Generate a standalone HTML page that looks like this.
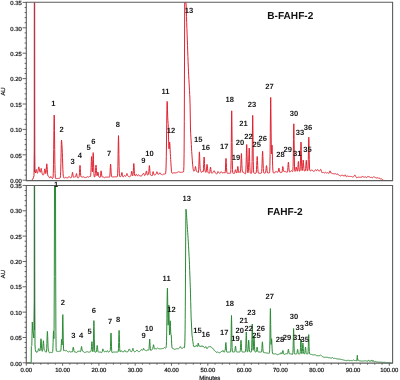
<!DOCTYPE html>
<html><head><meta charset="utf-8"><style>
html,body{margin:0;padding:0;background:#fff;}
body{width:400px;height:380px;overflow:hidden;}
svg{display:block;will-change:transform;filter:blur(0.3px);}
text{font-family:"Liberation Sans",sans-serif;text-rendering:geometricPrecision;}
.ax{stroke:#555;stroke-width:0.9;}
.fr{fill:none;stroke:#5e5e5e;stroke-width:1.1;}
.yl{font-size:5.9px;fill:#1a1a1a;stroke:#1a1a1a;stroke-width:0.22px;text-anchor:end;}
.xl{font-size:5.9px;fill:#1a1a1a;stroke:#1a1a1a;stroke-width:0.22px;text-anchor:middle;}
.pl{font-size:7.6px;fill:#1a1a1a;text-anchor:middle;font-weight:bold;}
.ttl{font-size:10.1px;font-weight:bold;fill:#111;}
.red{fill:none;stroke:#e0222f;stroke-width:1.0;stroke-linejoin:round;}
.grn{fill:none;stroke:#2b8a35;stroke-width:1.0;stroke-linejoin:round;}
</style></head><body>
<svg width="400" height="380" viewBox="0 0 400 380">
<rect width="400" height="380" fill="#fff"/>
<!-- top panel -->
<path class="red" d="M26.50,180.50 L26.70,180.50 L26.90,180.50 L27.10,180.50 L27.30,180.50 L27.50,180.50 L27.70,180.50 L27.90,180.50 L28.10,180.50 L28.30,180.50 L28.50,180.50 L28.70,180.50 L28.90,180.50 L29.10,180.50 L29.30,180.50 L29.50,180.50 L29.70,180.50 L29.90,180.50 L30.10,180.50 L30.30,180.50 L30.50,180.50 L30.70,180.50 L30.90,180.50 L31.10,180.43 L31.30,180.30 L31.50,180.50 L32.50,179.40 L33.40,177.80 L34.00,175.50 L34.30,150.00 L34.35,2.60 L34.65,2.60 L34.75,150.00 L34.95,171.50 L35.50,173.00 L35.70,171.89 L35.90,170.53 L36.10,169.66 L36.20,169.52 L36.30,169.58 L36.50,170.21 L36.70,171.26 L36.90,172.30 L37.10,173.02 L37.30,173.30 L37.50,173.13 L37.70,172.53 L37.90,171.53 L38.10,170.28 L38.30,168.95 L38.50,167.74 L38.70,167.00 L38.80,166.89 L38.90,166.95 L39.10,167.58 L39.30,168.66 L39.50,169.89 L39.70,171.02 L39.90,171.87 L40.10,172.30 L40.30,172.20 L40.50,171.52 L40.70,170.38 L40.90,169.16 L41.10,168.41 L41.20,168.34 L41.30,168.50 L41.50,169.43 L41.70,170.82 L41.90,172.20 L42.10,173.30 L42.30,174.07 L42.50,174.59 L42.70,174.91 L42.90,175.05 L43.10,175.04 L43.30,174.93 L43.50,174.76 L43.70,174.51 L43.90,174.04 L44.10,173.17 L44.30,171.85 L44.50,170.32 L44.70,169.11 L44.90,168.78 L45.10,169.51 L45.30,170.98 L45.50,172.54 L45.70,173.53 L45.90,173.46 L46.10,172.03 L46.30,169.34 L46.50,166.23 L46.70,164.12 L46.80,163.85 L46.90,164.19 L47.10,166.48 L47.30,169.81 L47.50,172.82 L47.70,174.78 L47.90,175.73 L48.10,176.09 L48.30,176.21 L48.50,176.29 L48.70,176.46 L48.90,176.75 L49.10,177.10 L49.30,177.45 L49.50,177.73 L49.70,177.92 L49.90,178.00 L50.10,177.85 L50.30,177.45 L50.50,176.96 L50.70,176.58 L50.90,176.49 L51.10,176.74 L51.30,177.21 L51.50,177.70 L51.70,178.05 L51.90,178.26 L52.10,178.35 L52.30,178.39 L52.50,178.40 L52.70,178.36 L52.90,178.10 L53.10,176.99 L53.30,173.40 L53.50,164.74 L53.70,149.44 L53.90,130.63 L54.10,117.05 L54.20,115.10 L54.30,117.05 L54.50,130.65 L54.70,149.48 L54.90,164.80 L55.10,173.48 L55.30,177.08 L55.50,178.21 L55.70,178.49 L55.90,178.55 L56.10,178.56 L56.30,178.57 L56.50,178.58 L56.70,178.59 L56.90,178.60 L57.10,178.59 L57.30,178.56 L57.50,178.53 L57.70,178.51 L57.90,178.48 L58.10,178.45 L58.30,178.43 L58.50,178.40 L58.70,178.37 L58.90,178.35 L59.10,178.32 L59.30,178.29 L59.50,178.27 L59.70,178.24 L59.90,178.19 L60.10,178.04 L60.30,177.47 L60.50,175.69 L60.70,171.35 L60.90,163.50 L61.10,153.27 L61.30,144.29 L61.40,141.50 L61.50,140.14 L61.70,141.06 L61.90,144.38 L62.10,148.04 L62.20,150.00 L62.30,152.22 L62.50,157.68 L62.70,163.98 L62.90,169.74 L63.10,173.89 L63.30,176.27 L63.50,177.38 L63.70,177.80 L63.90,177.92 L64.10,177.94 L64.30,177.93 L64.50,177.90 L64.70,177.85 L64.90,177.75 L65.10,177.61 L65.30,177.46 L65.50,177.36 L65.70,177.35 L65.90,177.43 L66.10,177.55 L66.30,177.67 L66.50,177.74 L66.70,177.78 L66.90,177.80 L67.10,177.82 L67.30,177.85 L67.50,177.88 L67.70,177.87 L67.90,177.81 L68.10,177.66 L68.30,177.41 L68.50,177.07 L68.70,176.74 L68.90,176.54 L69.10,176.55 L69.30,176.76 L69.50,177.05 L69.70,177.32 L69.90,177.50 L70.10,177.61 L70.30,177.67 L70.50,177.70 L70.70,177.70 L70.90,177.67 L71.10,177.63 L71.30,177.55 L71.50,177.36 L71.70,176.88 L71.90,175.91 L72.10,174.45 L72.30,172.99 L72.50,172.30 L72.70,172.79 L72.90,174.09 L73.10,175.50 L73.30,176.51 L73.50,177.06 L73.70,177.31 L73.90,177.38 L74.10,177.33 L74.30,177.19 L74.50,176.99 L74.70,176.81 L74.90,176.72 L75.10,176.75 L75.30,176.83 L75.50,176.79 L75.70,176.47 L75.90,175.74 L76.10,174.72 L76.30,173.81 L76.50,173.54 L76.70,174.13 L76.90,175.26 L77.10,176.39 L77.30,177.21 L77.50,177.68 L77.70,177.92 L77.90,177.98 L78.10,177.91 L78.30,177.78 L78.50,177.63 L78.70,177.49 L78.90,177.30 L79.10,176.80 L79.30,175.43 L79.50,172.63 L79.70,168.77 L79.90,165.77 L80.00,165.33 L80.10,165.77 L80.30,168.76 L80.50,172.59 L80.70,175.31 L80.90,176.55 L81.10,176.88 L81.30,176.89 L81.50,176.87 L81.70,176.92 L81.90,177.02 L82.10,177.11 L82.30,177.11 L82.50,177.02 L82.70,176.86 L82.90,176.70 L83.10,176.63 L83.30,176.70 L83.50,176.86 L83.70,177.04 L83.90,177.18 L84.10,177.27 L84.30,177.32 L84.50,177.36 L84.70,177.42 L84.90,177.50 L85.10,177.57 L85.30,177.59 L85.50,177.56 L85.70,177.49 L85.90,177.41 L86.10,177.34 L86.30,177.30 L86.50,177.26 L86.70,177.22 L86.90,177.14 L87.10,177.02 L87.30,176.87 L87.50,176.75 L87.70,176.70 L87.90,176.76 L88.10,176.89 L88.30,177.03 L88.50,177.12 L88.70,177.15 L88.90,177.11 L89.10,176.98 L89.30,176.78 L89.50,176.55 L89.70,176.39 L89.90,176.36 L90.10,176.47 L90.30,176.59 L90.50,176.43 L90.70,175.39 L90.90,172.64 L91.10,167.70 L91.30,161.61 L91.50,157.21 L91.60,156.56 L91.70,157.18 L91.90,161.52 L92.10,167.42 L92.30,171.56 L92.50,171.77 L92.70,167.31 L92.90,159.70 L93.10,153.52 L93.20,152.60 L93.30,153.53 L93.50,159.81 L93.70,167.80 L93.90,173.45 L94.10,176.08 L94.30,176.92 L94.50,177.08 L94.70,176.99 L94.90,176.62 L95.10,175.65 L95.30,173.72 L95.50,170.78 L95.70,167.52 L95.90,165.31 L96.00,165.00 L96.10,165.31 L96.30,167.51 L96.50,170.76 L96.70,173.65 L96.90,175.41 L97.10,175.90 L97.30,175.31 L97.50,173.98 L97.70,172.60 L97.90,172.00 L98.10,172.60 L98.30,174.01 L98.50,175.45 L98.70,176.42 L98.90,176.89 L99.10,177.06 L99.30,177.13 L99.50,177.18 L99.70,177.28 L99.90,177.38 L100.10,177.35 L100.30,176.89 L100.50,175.68 L100.70,173.74 L100.90,171.77 L101.10,170.83 L101.30,171.47 L101.50,173.19 L101.70,174.99 L101.90,176.20 L102.10,176.78 L102.30,176.98 L102.50,177.02 L102.70,177.02 L102.90,177.02 L103.10,177.03 L103.30,177.04 L103.50,177.07 L103.70,177.11 L103.90,177.18 L104.10,177.31 L104.30,177.46 L104.50,177.59 L104.70,177.64 L104.90,177.58 L105.10,177.44 L105.30,177.28 L105.50,177.16 L105.70,177.10 L105.90,177.08 L106.10,177.09 L106.30,177.13 L106.50,177.19 L106.70,177.23 L106.90,177.24 L107.10,177.22 L107.30,177.16 L107.50,177.10 L107.70,177.06 L107.90,177.04 L108.10,177.03 L108.30,177.04 L108.50,177.07 L108.70,177.12 L108.90,177.19 L109.10,177.24 L109.30,177.24 L109.50,177.11 L109.70,176.60 L109.90,175.14 L110.10,172.10 L110.30,167.84 L110.50,164.50 L110.60,164.00 L110.70,164.49 L110.90,167.80 L111.10,172.01 L111.30,174.99 L111.50,176.38 L111.70,176.82 L111.90,176.91 L112.10,176.92 L112.30,176.92 L112.50,176.91 L112.70,176.91 L112.90,176.90 L113.10,176.89 L113.30,176.88 L113.50,176.88 L113.70,176.87 L113.90,176.86 L114.10,176.86 L114.30,176.85 L114.50,176.84 L114.70,176.84 L114.90,176.83 L115.10,176.82 L115.30,176.81 L115.50,176.81 L115.70,176.80 L115.90,176.79 L116.10,176.79 L116.30,176.78 L116.50,176.77 L116.70,176.77 L116.90,176.76 L117.10,176.73 L117.30,176.59 L117.50,175.87 L117.70,173.25 L117.90,166.47 L118.10,154.55 L118.30,141.48 L118.50,135.60 L118.70,141.47 L118.90,154.52 L119.10,166.43 L119.30,173.19 L119.50,175.80 L119.70,176.50 L119.90,176.63 L120.10,176.63 L120.30,176.62 L120.50,176.58 L120.70,176.52 L120.90,176.37 L121.10,175.99 L121.30,175.22 L121.50,174.09 L121.70,172.97 L121.90,172.51 L122.10,173.03 L122.30,174.22 L122.50,175.48 L122.70,176.39 L122.90,176.85 L123.10,177.00 L123.30,176.93 L123.50,176.74 L123.70,176.48 L123.90,176.15 L124.10,175.81 L124.30,175.54 L124.50,175.42 L124.70,175.52 L124.90,175.76 L125.10,176.03 L125.30,176.24 L125.50,176.34 L125.70,176.32 L125.90,176.17 L126.10,175.83 L126.30,175.26 L126.50,174.55 L126.70,173.89 L126.90,173.53 L127.00,173.53 L127.10,173.64 L127.30,174.15 L127.50,174.85 L127.70,175.49 L127.90,175.94 L128.10,176.21 L128.30,176.35 L128.50,176.46 L128.70,176.58 L128.90,176.70 L129.10,176.80 L129.30,176.81 L129.50,176.73 L129.70,176.60 L129.90,176.47 L130.10,176.37 L130.30,176.31 L130.50,176.25 L130.70,176.09 L130.90,175.65 L131.10,174.72 L131.30,173.28 L131.50,171.84 L131.70,171.19 L131.90,171.75 L132.10,173.13 L132.30,174.56 L132.50,175.49 L132.70,175.84 L132.90,175.56 L133.10,174.27 L133.30,171.41 L133.50,167.34 L133.70,164.06 L133.80,163.50 L133.90,163.86 L134.10,166.83 L134.30,170.78 L134.50,173.69 L134.70,175.16 L134.90,175.72 L135.10,175.87 L135.30,175.80 L135.50,175.56 L135.70,175.16 L135.90,174.70 L136.10,174.35 L136.30,174.29 L136.50,174.54 L136.70,174.97 L136.90,175.39 L137.10,175.67 L137.30,175.81 L137.50,175.81 L137.70,175.69 L137.90,175.46 L138.10,175.14 L138.30,174.84 L138.50,174.68 L138.70,174.75 L138.90,175.00 L139.10,175.31 L139.30,175.56 L139.50,175.72 L139.70,175.79 L139.90,175.82 L140.10,175.84 L140.30,175.89 L140.50,175.98 L140.70,176.10 L140.90,176.22 L141.10,176.26 L141.30,176.20 L141.50,176.04 L141.70,175.78 L141.90,175.45 L142.10,175.04 L142.30,174.63 L142.50,174.32 L142.70,174.19 L142.90,174.18 L143.10,174.09 L143.30,173.78 L143.50,173.40 L143.70,173.30 L143.90,173.67 L144.10,174.34 L144.30,174.98 L144.50,175.36 L144.70,175.49 L144.90,175.44 L145.10,175.25 L145.30,174.92 L145.50,174.42 L145.70,173.73 L145.90,172.85 L146.10,171.85 L146.30,171.07 L146.50,170.95 L146.70,171.68 L146.90,172.93 L147.10,174.11 L147.30,174.85 L147.50,175.14 L147.70,175.13 L147.90,174.93 L148.10,174.66 L148.30,174.38 L148.50,174.01 L148.70,173.11 L148.90,171.15 L149.10,168.26 L149.30,165.93 L149.40,165.56 L149.50,165.89 L149.70,168.21 L149.90,171.22 L150.10,173.41 L150.30,174.50 L150.50,174.94 L150.70,175.11 L150.90,175.19 L151.10,175.25 L151.30,175.35 L151.50,175.51 L151.70,175.73 L151.90,175.91 L152.10,175.89 L152.30,175.49 L152.50,174.60 L152.70,173.34 L152.90,172.15 L153.10,171.59 L153.30,171.93 L153.50,172.87 L153.70,173.84 L153.90,174.50 L154.10,174.81 L154.30,174.91 L154.50,174.92 L154.70,174.90 L154.90,174.88 L155.10,174.84 L155.30,174.77 L155.50,174.65 L155.70,174.45 L155.90,174.17 L156.10,173.80 L156.30,173.32 L156.50,172.73 L156.70,172.10 L156.90,171.73 L157.00,171.74 L157.10,171.89 L157.30,172.54 L157.50,173.34 L157.70,173.94 L157.90,174.20 L158.10,174.22 L158.30,174.16 L158.50,174.12 L158.70,174.13 L158.90,174.13 L159.10,174.04 L159.30,173.78 L159.50,173.39 L159.70,173.00 L159.90,172.81 L160.00,172.83 L160.10,172.93 L160.30,173.31 L160.50,173.77 L160.70,174.13 L160.90,174.32 L161.10,174.38 L161.30,174.40 L161.50,174.46 L161.70,174.57 L161.90,174.74 L162.10,174.89 L162.30,174.95 L162.50,174.88 L162.70,174.70 L162.90,174.49 L163.10,174.32 L163.30,174.21 L163.50,174.15 L163.70,174.12 L163.90,174.10 L164.10,174.08 L164.30,174.06 L164.50,174.04 L164.70,174.03 L164.90,174.01 L165.10,173.98 L165.30,173.91 L165.50,173.68 L165.70,172.94 L165.90,170.86 L166.10,165.97 L166.30,156.58 L166.50,142.05 L166.70,124.56 L166.90,109.20 L167.10,101.40 L167.30,102.81 L167.50,109.87 L167.70,116.87 L167.90,120.81 L168.10,123.24 L168.20,125.00 L168.30,127.55 L168.50,134.95 L168.70,143.12 L168.90,148.38 L169.10,148.85 L169.30,145.82 L169.50,142.66 L169.60,142.00 L169.70,142.21 L169.90,144.96 L170.10,149.28 L170.30,153.34 L170.50,156.55 L170.60,158.00 L170.70,159.48 L170.90,162.72 L171.10,166.13 L171.30,169.12 L171.50,171.22 L171.70,172.41 L171.90,172.96 L172.10,173.15 L172.30,173.20 L172.50,173.19 L172.70,173.16 L172.90,173.12 L173.10,173.05 L173.30,172.94 L173.50,172.82 L173.70,172.71 L173.90,172.66 L174.10,172.69 L174.30,172.76 L174.50,172.84 L174.70,172.89 L174.90,172.91 L175.10,172.91 L175.30,172.89 L175.50,172.86 L175.70,172.83 L175.90,172.80 L176.10,172.77 L176.30,172.73 L176.50,172.69 L176.70,172.61 L176.90,172.51 L177.10,172.40 L177.30,172.32 L177.50,172.30 L177.70,172.33 L177.90,172.35 L178.10,172.30 L178.30,172.14 L178.50,171.92 L178.70,171.72 L178.90,171.64 L179.10,171.72 L179.30,171.92 L179.50,172.12 L179.70,172.27 L179.90,172.34 L180.10,172.36 L180.30,172.36 L180.50,172.34 L180.70,172.32 L180.90,172.31 L181.10,172.29 L181.30,172.27 L181.50,172.26 L181.70,172.24 L181.90,172.22 L182.10,172.20 L182.30,172.18 L182.50,172.15 L182.70,172.12 L182.90,172.09 L183.10,172.07 L183.30,172.04 L183.50,171.78 L183.70,170.62 L183.90,166.31 L184.10,153.27 L184.30,121.67 L184.50,61.06 L184.70,2.60 L184.90,2.60 L185.10,2.60 L185.20,2.60 L185.30,2.60 L185.50,2.60 L185.70,2.60 L185.90,2.60 L186.00,2.60 L186.10,4.92 L186.30,10.77 L186.50,16.62 L186.70,22.46 L186.90,28.31 L187.10,34.15 L187.30,40.00 L187.50,45.45 L187.70,50.91 L187.90,56.36 L188.10,61.82 L188.30,67.27 L188.50,71.88 L188.70,75.62 L188.90,79.38 L189.10,83.13 L189.30,86.88 L189.50,90.63 L189.70,94.38 L189.90,98.13 L190.10,106.00 L190.30,118.00 L190.50,130.00 L190.70,133.64 L190.90,137.27 L191.10,140.91 L191.30,144.55 L191.50,148.18 L191.70,151.44 L191.90,154.33 L192.10,157.22 L192.30,160.11 L192.50,163.00 L192.70,164.86 L192.90,166.71 L193.10,168.57 L193.30,169.83 L193.50,170.50 L193.70,171.12 L193.90,171.10 L194.10,171.07 L194.30,171.01 L194.50,170.84 L194.70,170.40 L194.90,169.50 L195.10,168.21 L195.30,166.99 L195.50,166.50 L195.70,167.11 L195.90,168.47 L196.10,169.86 L196.30,170.82 L196.50,171.32 L196.70,171.54 L196.90,171.64 L197.10,171.69 L197.30,171.74 L197.50,171.82 L197.70,171.96 L197.90,172.17 L198.10,172.43 L198.30,172.56 L198.50,172.04 L198.70,169.87 L198.90,165.03 L199.10,158.16 L199.30,152.74 L199.40,151.88 L199.50,152.58 L199.70,157.62 L199.90,164.00 L200.10,168.29 L200.30,170.08 L200.50,170.59 L200.70,170.89 L200.90,171.31 L201.10,171.78 L201.30,172.15 L201.50,172.33 L201.70,172.31 L201.90,172.13 L202.10,171.85 L202.30,171.58 L202.50,171.47 L202.70,171.56 L202.90,171.79 L203.10,171.85 L203.30,171.12 L203.50,168.72 L203.70,164.28 L203.90,159.34 L204.10,157.03 L204.30,159.05 L204.50,163.65 L204.70,167.78 L204.90,170.05 L205.10,170.99 L205.30,171.48 L205.50,171.92 L205.70,172.28 L205.90,172.42 L206.10,172.13 L206.30,171.11 L206.50,169.17 L206.70,166.69 L206.90,164.74 L207.00,164.35 L207.10,164.44 L207.30,165.93 L207.50,168.30 L207.70,170.44 L207.90,171.82 L208.10,172.54 L208.30,172.84 L208.50,172.97 L208.70,173.04 L208.90,173.12 L209.10,173.21 L209.30,173.27 L209.50,173.16 L209.70,172.62 L209.90,171.42 L210.10,169.61 L210.30,167.84 L210.50,167.07 L210.70,167.77 L210.90,169.48 L211.10,171.23 L211.30,172.43 L211.50,173.00 L211.70,173.20 L211.90,173.23 L212.10,173.18 L212.30,173.07 L212.50,172.91 L212.70,172.70 L212.90,172.46 L213.10,172.19 L213.30,171.88 L213.50,171.50 L213.70,171.09 L213.90,170.78 L214.00,170.71 L214.10,170.70 L214.30,170.87 L214.50,171.23 L214.70,171.67 L214.90,172.11 L215.10,172.51 L215.30,172.82 L215.50,173.04 L215.70,173.20 L215.90,173.34 L216.10,173.53 L216.30,173.76 L216.50,173.96 L216.70,174.04 L216.90,173.90 L217.10,173.54 L217.30,173.01 L217.50,172.42 L217.70,171.88 L217.90,171.55 L218.00,171.49 L218.10,171.52 L218.30,171.77 L218.50,172.18 L218.70,172.58 L218.90,172.89 L219.10,173.08 L219.30,173.17 L219.50,173.21 L219.70,173.23 L219.90,173.23 L220.10,173.18 L220.30,173.03 L220.50,172.73 L220.70,172.31 L220.90,171.90 L221.00,171.76 L221.10,171.69 L221.30,171.76 L221.50,172.02 L221.70,172.31 L221.90,172.52 L222.10,172.65 L222.30,172.76 L222.50,172.87 L222.70,172.99 L222.90,173.05 L223.10,173.03 L223.30,172.89 L223.50,172.66 L223.70,172.44 L223.90,172.32 L224.10,172.37 L224.30,172.57 L224.50,172.84 L224.70,173.07 L224.90,173.17 L225.10,172.84 L225.30,171.38 L225.50,167.99 L225.70,163.03 L225.90,159.04 L226.00,158.39 L226.10,158.89 L226.30,162.65 L226.50,167.52 L226.70,170.98 L226.90,172.59 L227.10,173.11 L227.30,173.23 L227.50,173.25 L227.70,173.26 L227.90,173.26 L228.10,173.26 L228.30,173.26 L228.50,173.26 L228.70,173.26 L228.90,173.26 L229.10,173.26 L229.30,173.26 L229.50,173.26 L229.70,173.26 L229.90,173.26 L230.10,173.26 L230.30,173.25 L230.50,173.16 L230.70,172.52 L230.90,169.60 L231.10,160.58 L231.30,142.51 L231.50,120.94 L231.70,110.80 L231.90,120.94 L232.10,142.52 L232.30,160.59 L232.50,169.60 L232.70,172.53 L232.90,173.17 L233.10,173.27 L233.30,173.29 L233.50,173.31 L233.70,173.35 L233.90,173.42 L234.10,173.48 L234.30,173.45 L234.50,173.23 L234.70,172.69 L234.90,171.83 L235.10,170.82 L235.30,170.00 L235.50,169.71 L235.70,170.07 L235.90,170.89 L236.10,171.81 L236.30,172.53 L236.50,172.96 L236.70,173.08 L236.90,172.81 L237.10,171.95 L237.30,170.30 L237.50,168.21 L237.70,166.64 L237.80,166.38 L237.90,166.56 L238.10,168.00 L238.30,170.04 L238.50,171.66 L238.70,172.45 L238.90,172.54 L239.10,172.25 L239.30,171.88 L239.50,171.68 L239.70,171.78 L239.90,172.10 L240.10,172.44 L240.30,172.42 L240.50,171.49 L240.70,168.88 L240.90,164.15 L241.10,158.32 L241.30,154.12 L241.40,153.53 L241.50,154.15 L241.70,158.39 L241.90,164.21 L242.10,168.88 L242.30,171.36 L242.50,172.15 L242.70,172.11 L242.90,171.89 L243.10,171.84 L243.30,172.04 L243.50,172.41 L243.70,172.78 L243.90,173.06 L244.10,173.21 L244.30,173.28 L244.50,173.32 L244.70,173.37 L244.90,173.47 L245.10,173.61 L245.30,173.73 L245.50,173.61 L245.70,172.70 L245.90,169.97 L246.10,164.35 L246.30,156.07 L246.50,148.00 L246.70,144.54 L246.90,147.90 L247.10,155.84 L247.30,163.95 L247.50,169.40 L247.70,172.01 L247.90,172.85 L248.10,172.66 L248.30,171.28 L248.50,167.83 L248.70,161.72 L248.90,154.20 L249.10,148.78 L249.20,148.00 L249.30,148.78 L249.50,154.20 L249.70,161.72 L249.90,167.83 L250.10,171.29 L250.30,172.72 L250.50,173.17 L250.70,173.28 L250.90,173.30 L251.10,173.30 L251.30,173.29 L251.50,173.20 L251.70,172.61 L251.90,169.90 L252.10,161.54 L252.30,144.79 L252.50,124.80 L252.70,115.40 L252.90,124.80 L253.10,144.79 L253.30,161.54 L253.50,169.90 L253.70,172.61 L253.90,173.20 L254.10,173.29 L254.30,173.30 L254.50,173.30 L254.70,173.30 L254.90,173.30 L255.10,173.30 L255.30,173.30 L255.50,173.30 L255.70,173.29 L255.90,173.21 L256.10,172.92 L256.30,171.96 L256.50,169.67 L256.70,165.61 L256.90,160.62 L257.10,157.02 L257.20,156.50 L257.30,157.02 L257.50,160.62 L257.70,165.61 L257.90,169.67 L258.10,171.96 L258.30,172.92 L258.50,173.21 L258.70,173.29 L258.90,173.30 L259.10,173.30 L259.30,173.30 L259.50,173.30 L259.70,173.30 L259.90,173.30 L260.10,173.30 L260.30,173.29 L260.50,173.28 L260.70,173.28 L260.90,173.27 L261.10,173.24 L261.30,173.14 L261.50,172.75 L261.70,171.48 L261.90,168.45 L262.10,163.11 L262.30,156.53 L262.50,151.78 L262.60,151.10 L262.70,151.78 L262.90,156.51 L263.10,163.07 L263.30,168.41 L263.50,171.42 L263.70,172.67 L263.90,173.06 L264.10,173.14 L264.30,173.15 L264.50,173.15 L264.70,173.14 L264.90,173.13 L265.10,173.11 L265.30,173.04 L265.50,172.79 L265.70,172.10 L265.90,170.67 L266.10,168.56 L266.30,166.49 L266.50,165.60 L266.70,166.47 L266.90,168.53 L267.10,170.63 L267.30,172.04 L267.50,172.72 L267.70,172.96 L267.90,173.02 L268.10,173.03 L268.30,173.02 L268.50,173.02 L268.70,173.01 L268.90,173.00 L269.10,172.99 L269.30,172.95 L269.50,172.69 L269.70,171.38 L269.90,166.59 L270.10,154.16 L270.30,132.28 L270.50,108.31 L270.70,97.40 L270.90,107.68 L271.10,130.05 L271.30,148.11 L271.50,153.81 L271.70,150.34 L271.90,145.68 L272.00,145.00 L272.10,145.92 L272.30,151.91 L272.50,160.16 L272.70,166.87 L272.90,170.66 L273.10,172.23 L273.30,172.72 L273.50,172.83 L273.70,172.84 L273.90,172.84 L274.10,172.83 L274.30,172.82 L274.50,172.81 L274.70,172.78 L274.90,172.71 L275.10,172.55 L275.30,172.28 L275.50,171.90 L275.70,171.53 L275.90,171.32 L276.10,171.36 L276.30,171.61 L276.50,171.89 L276.70,172.07 L276.90,172.11 L277.10,172.09 L277.30,172.10 L277.50,172.17 L277.70,172.24 L277.90,172.17 L278.10,171.81 L278.30,171.06 L278.50,169.95 L278.70,168.78 L278.90,168.12 L279.00,168.14 L279.10,168.39 L279.30,169.47 L279.50,170.77 L279.70,171.78 L279.90,172.33 L280.10,172.53 L280.30,172.55 L280.50,172.48 L280.70,172.36 L280.90,172.24 L281.10,172.17 L281.30,172.20 L281.50,172.33 L281.70,172.48 L281.90,172.42 L282.10,171.81 L282.30,170.38 L282.50,168.41 L282.70,166.81 L282.80,166.48 L282.90,166.55 L283.10,167.71 L283.30,169.41 L283.50,170.71 L283.70,171.25 L283.90,171.26 L284.10,171.15 L284.30,171.20 L284.50,171.44 L284.70,171.75 L284.90,171.96 L285.10,171.98 L285.30,171.84 L285.50,171.65 L285.70,171.55 L285.90,171.60 L286.10,171.77 L286.30,171.97 L286.50,172.14 L286.70,172.26 L286.90,172.34 L287.10,172.37 L287.30,172.24 L287.50,171.67 L287.70,170.23 L287.90,167.71 L288.10,164.62 L288.30,162.38 L288.40,162.04 L288.50,162.33 L288.70,164.44 L288.90,167.41 L289.10,169.85 L289.30,171.24 L289.50,171.82 L289.70,171.98 L289.90,171.97 L290.10,171.89 L290.30,171.79 L290.50,171.64 L290.70,171.42 L290.90,171.13 L291.10,170.82 L291.30,170.63 L291.50,170.64 L291.70,170.84 L291.90,171.13 L292.10,171.38 L292.30,171.54 L292.50,171.60 L292.70,171.42 L292.90,170.33 L293.10,166.19 L293.30,155.83 L293.50,139.53 L293.70,125.88 L293.80,123.80 L293.90,125.87 L294.10,139.50 L294.30,155.78 L294.50,166.12 L294.70,170.24 L294.90,171.31 L295.10,171.42 L295.30,171.18 L295.50,170.55 L295.70,169.46 L295.90,168.12 L296.10,167.14 L296.20,167.00 L296.30,167.13 L296.50,168.09 L296.70,169.41 L296.90,170.48 L297.10,171.07 L297.30,171.24 L297.50,170.96 L297.70,169.90 L297.90,167.60 L298.10,164.34 L298.30,161.78 L298.40,161.40 L298.50,161.77 L298.70,164.31 L298.90,167.55 L299.10,169.84 L299.30,170.90 L299.50,171.23 L299.70,171.26 L299.90,171.03 L300.10,170.01 L300.30,166.87 L300.50,160.13 L300.70,150.60 L300.90,143.11 L301.00,142.00 L301.10,143.10 L301.30,150.57 L301.50,160.07 L301.70,166.79 L301.90,169.86 L302.10,170.67 L302.30,170.26 L302.50,168.76 L302.70,166.06 L302.90,162.75 L303.10,160.35 L303.20,160.00 L303.30,160.34 L303.50,162.72 L303.70,166.01 L303.90,168.70 L304.10,170.21 L304.30,170.83 L304.50,171.02 L304.70,171.05 L304.90,171.05 L305.10,171.00 L305.30,170.81 L305.50,170.12 L305.70,168.35 L305.90,165.24 L306.10,161.84 L306.30,160.30 L306.50,161.82 L306.70,165.20 L306.90,168.29 L307.10,170.04 L307.30,170.71 L307.50,170.86 L307.70,170.75 L307.90,169.97 L308.10,167.05 L308.30,159.76 L308.50,148.28 L308.70,138.66 L308.80,137.20 L308.90,138.65 L309.10,148.25 L309.30,159.71 L309.50,166.98 L309.70,169.88 L309.90,170.65 L310.10,170.78 L310.30,170.80 L310.50,170.80 L310.70,170.78 L310.90,170.73 L311.10,170.60 L311.30,170.39 L311.50,170.12 L311.70,169.88 L311.90,169.79 L312.10,169.90 L312.30,170.15 L312.50,170.44 L312.70,170.67 L312.90,170.84 L313.10,170.99 L313.30,171.14 L313.50,171.30 L313.70,171.41 L313.90,171.42 L314.10,171.33 L314.30,171.18 L314.50,171.01 L314.70,170.83 L314.90,170.60 L315.10,170.29 L315.30,169.95 L315.50,169.69 L315.70,169.65 L315.90,169.84 L316.10,170.17 L316.30,170.48 L316.50,170.66 L316.70,170.68 L316.90,170.51 L317.10,170.18 L317.30,169.79 L317.50,169.50 L317.70,169.47 L317.90,169.71 L318.10,170.11 L318.30,170.51 L318.50,170.81 L318.70,170.97 L318.90,171.04 L319.10,171.04 L319.30,171.01 L319.50,170.94 L319.70,170.80 L319.90,170.54 L320.10,170.22 L320.30,169.88 L320.50,169.54 L320.70,169.37 L320.90,169.52 L321.10,170.00 L321.30,170.70 L321.50,171.44 L321.70,172.07 L321.90,172.54 L322.10,172.75 L322.30,172.73 L322.50,172.61 L322.70,172.43 L322.90,172.27 L323.10,172.22 L323.30,172.30 L323.50,172.49 L323.70,172.69 L323.90,172.85 L324.10,172.94 L324.30,172.97 L324.50,172.96 L324.70,172.88 L324.90,172.74 L325.10,172.54 L325.30,172.36 L325.50,172.29 L325.70,172.36 L325.90,172.54 L326.10,172.76 L326.30,172.92 L326.50,173.01 L326.70,173.00 L326.90,172.93 L327.10,172.82 L327.30,172.72 L327.50,172.70 L327.70,172.76 L327.90,172.88 L328.10,173.02 L328.30,173.12 L328.50,173.19 L328.70,173.23 L328.90,173.22 L329.10,173.11 L329.30,172.80 L329.50,172.21 L329.70,171.45 L329.90,170.88 L330.00,170.79 L330.10,170.87 L330.30,171.42 L330.50,172.19 L330.70,172.82 L330.90,173.14 L331.10,173.20 L331.30,173.12 L331.50,173.01 L331.70,172.96 L331.90,173.02 L332.10,173.17 L332.30,173.37 L332.50,173.54 L332.70,173.65 L332.90,173.72 L333.10,173.75 L333.30,173.75 L333.50,173.72 L333.70,173.68 L333.90,173.66 L334.10,173.66 L334.30,173.71 L334.50,173.75 L334.70,173.77 L334.90,173.74 L335.10,173.71 L335.30,173.71 L335.50,173.79 L335.70,173.92 L335.90,174.06 L336.10,174.17 L336.30,174.25 L336.50,174.29 L336.70,174.29 L336.90,174.24 L337.10,174.16 L337.30,174.07 L337.50,174.01 L337.70,174.04 L337.90,174.19 L338.10,174.44 L338.30,174.71 L338.50,174.94 L338.70,175.11 L338.90,175.23 L339.10,175.33 L339.30,175.41 L339.50,175.49 L339.70,175.57 L339.90,175.66 L340.10,175.76 L340.30,175.84 L340.50,175.89 L340.70,175.87 L340.90,175.78 L341.10,175.60 L341.30,175.40 L341.50,175.31 L341.70,175.36 L341.90,175.47 L342.10,175.50 L342.30,175.39 L342.50,175.17 L342.70,175.00 L342.90,175.02 L343.10,175.25 L343.30,175.58 L343.50,175.89 L343.70,176.10 L343.90,176.20 L344.10,176.20 L344.30,176.11 L344.50,175.90 L344.70,175.55 L344.90,175.16 L345.10,174.88 L345.30,174.85 L345.50,175.10 L345.70,175.54 L345.90,176.00 L346.10,176.38 L346.30,176.61 L346.50,176.66 L346.70,176.53 L346.90,176.30 L347.10,176.08 L347.30,175.97 L347.50,176.01 L347.70,176.12 L347.90,176.24 L348.10,176.32 L348.30,176.36 L348.50,176.37 L348.70,176.37 L348.90,176.36 L349.10,176.36 L349.30,176.38 L349.50,176.40 L349.70,176.42 L349.90,176.44 L350.10,176.45 L350.30,176.45 L350.50,176.45 L350.70,176.46 L350.90,176.47 L351.10,176.48 L351.30,176.49 L351.50,176.51 L351.70,176.54 L351.90,176.59 L352.10,176.70 L352.30,176.84 L352.50,176.98 L352.70,177.07 L352.90,177.06 L353.10,176.96 L353.30,176.82 L353.50,176.67 L353.70,176.53 L353.90,176.34 L354.10,176.07 L354.30,175.70 L354.50,175.32 L354.70,175.04 L354.90,174.99 L355.00,175.06 L355.10,175.19 L355.30,175.57 L355.50,175.99 L355.70,176.36 L355.90,176.67 L356.10,176.94 L356.30,177.23 L356.50,177.53 L356.70,177.77 L356.90,177.87 L357.10,177.79 L357.30,177.59 L357.50,177.39 L357.70,177.25 L357.90,177.19 L358.10,177.17 L358.30,177.18 L358.50,177.19 L358.70,177.18 L358.90,177.18 L359.10,177.19 L359.30,177.23 L359.50,177.29 L359.70,177.36 L359.90,177.41 L360.10,177.42 L360.30,177.36 L360.50,177.25 L360.70,177.13 L360.90,177.04 L361.10,177.03 L361.30,177.10 L361.50,177.18 L361.70,177.19 L361.90,177.06 L362.10,176.78 L362.30,176.46 L362.50,176.24 L362.70,176.24 L362.90,176.46 L363.10,176.77 L363.30,177.04 L363.50,177.17 L363.70,177.17 L363.90,177.12 L364.10,177.09 L364.30,177.12 L364.50,177.20 L364.70,177.24 L364.90,177.22 L365.10,177.11 L365.30,176.98 L365.50,176.92 L365.70,176.96 L365.90,177.10 L366.10,177.26 L366.30,177.40 L366.50,177.48 L366.70,177.50 L366.90,177.47 L367.10,177.37 L367.30,177.16 L367.50,176.84 L367.70,176.51 L367.90,176.28 L368.10,176.28 L368.30,176.48 L368.50,176.77 L368.70,176.97 L368.90,177.03 L369.10,176.97 L369.30,176.91 L369.50,176.94 L369.70,177.06 L369.90,177.23 L370.10,177.38 L370.30,177.46 L370.50,177.45 L370.70,177.36 L370.90,177.21 L371.10,177.10 L371.30,177.12 L371.50,177.32 L371.70,177.60 L371.90,177.80 L372.10,177.86 L372.30,177.80 L372.50,177.69 L372.70,177.54 L372.90,177.37 L373.10,177.15 L373.30,176.91 L373.50,176.73 L373.70,176.68 L373.90,176.75 L374.10,176.89 L374.30,177.04 L374.40,177.11 L374.50,177.18 L374.70,177.32 L374.90,177.43 L375.10,177.51 L375.30,177.57 L375.50,177.59 L375.70,177.61 L375.90,177.66 L376.10,177.74 L376.30,177.85 L376.50,177.95 L376.70,178.03 L376.90,178.07 L377.10,178.05 L377.30,177.97 L377.50,177.84 L377.70,177.71 L377.90,177.66 L378.10,177.76 L378.30,177.97 L378.50,178.20 L378.70,178.37 L378.90,178.43 L379.10,178.37 L379.30,178.26 L379.50,178.18 L379.70,178.21 L379.90,178.37 L380.10,178.61 L380.30,178.86 L380.50,179.03 L380.70,179.11 L380.90,179.09 L381.10,178.99 L381.30,178.84 L381.50,178.74 L381.70,178.78 L381.90,178.96 L382.10,179.24 L382.30,179.52 L382.50,179.75 L382.70,179.91 L382.90,180.03 L383.10,180.14 L383.30,180.24 L383.50,180.32 L383.70,180.39 L383.90,180.44 L384.10,180.45 L384.30,180.43 L384.50,180.41"/>
<line x1="34.5" y1="2.6" x2="34.5" y2="172" stroke="#a83a4a" stroke-width="1.1"/>
<path class="fr" d="M26.3,2.3 H392.6 V180.6 H26.3 Z"/>
<line x1="22.6" y1="2.40" x2="26.3" y2="2.40" class="ax"/>
<line x1="24.6" y1="7.48" x2="26.3" y2="7.48" class="ax"/>
<line x1="24.6" y1="12.56" x2="26.3" y2="12.56" class="ax"/>
<line x1="24.6" y1="17.64" x2="26.3" y2="17.64" class="ax"/>
<line x1="24.6" y1="22.72" x2="26.3" y2="22.72" class="ax"/>
<line x1="22.6" y1="27.80" x2="26.3" y2="27.80" class="ax"/>
<line x1="24.6" y1="32.88" x2="26.3" y2="32.88" class="ax"/>
<line x1="24.6" y1="37.96" x2="26.3" y2="37.96" class="ax"/>
<line x1="24.6" y1="43.04" x2="26.3" y2="43.04" class="ax"/>
<line x1="24.6" y1="48.12" x2="26.3" y2="48.12" class="ax"/>
<line x1="22.6" y1="53.20" x2="26.3" y2="53.20" class="ax"/>
<line x1="24.6" y1="58.28" x2="26.3" y2="58.28" class="ax"/>
<line x1="24.6" y1="63.36" x2="26.3" y2="63.36" class="ax"/>
<line x1="24.6" y1="68.44" x2="26.3" y2="68.44" class="ax"/>
<line x1="24.6" y1="73.52" x2="26.3" y2="73.52" class="ax"/>
<line x1="22.6" y1="78.60" x2="26.3" y2="78.60" class="ax"/>
<line x1="24.6" y1="83.68" x2="26.3" y2="83.68" class="ax"/>
<line x1="24.6" y1="88.76" x2="26.3" y2="88.76" class="ax"/>
<line x1="24.6" y1="93.84" x2="26.3" y2="93.84" class="ax"/>
<line x1="24.6" y1="98.92" x2="26.3" y2="98.92" class="ax"/>
<line x1="22.6" y1="104.00" x2="26.3" y2="104.00" class="ax"/>
<line x1="24.6" y1="109.08" x2="26.3" y2="109.08" class="ax"/>
<line x1="24.6" y1="114.16" x2="26.3" y2="114.16" class="ax"/>
<line x1="24.6" y1="119.24" x2="26.3" y2="119.24" class="ax"/>
<line x1="24.6" y1="124.32" x2="26.3" y2="124.32" class="ax"/>
<line x1="22.6" y1="129.40" x2="26.3" y2="129.40" class="ax"/>
<line x1="24.6" y1="134.48" x2="26.3" y2="134.48" class="ax"/>
<line x1="24.6" y1="139.56" x2="26.3" y2="139.56" class="ax"/>
<line x1="24.6" y1="144.64" x2="26.3" y2="144.64" class="ax"/>
<line x1="24.6" y1="149.72" x2="26.3" y2="149.72" class="ax"/>
<line x1="22.6" y1="154.80" x2="26.3" y2="154.80" class="ax"/>
<line x1="24.6" y1="159.88" x2="26.3" y2="159.88" class="ax"/>
<line x1="24.6" y1="164.96" x2="26.3" y2="164.96" class="ax"/>
<line x1="24.6" y1="170.04" x2="26.3" y2="170.04" class="ax"/>
<line x1="24.6" y1="175.12" x2="26.3" y2="175.12" class="ax"/>
<line x1="22.6" y1="180.20" x2="26.3" y2="180.20" class="ax"/>
<text x="21.8" y="5.10" class="yl">0.35</text>
<text x="21.8" y="30.50" class="yl">0.30</text>
<text x="21.8" y="55.90" class="yl">0.25</text>
<text x="21.8" y="81.30" class="yl">0.20</text>
<text x="21.8" y="106.70" class="yl">0.15</text>
<text x="21.8" y="132.10" class="yl">0.10</text>
<text x="21.8" y="157.50" class="yl">0.05</text>
<text x="21.8" y="182.90" class="yl">0.00</text>
<text x="0" y="0" transform="translate(5.2,91.5) rotate(-90)" class="yl" style="text-anchor:middle">AU</text>
<text x="267.3" y="19.2" class="ttl">B-FAHF-2</text>
<text x="53.4" y="105.60" class="pl">1</text>
<text x="61.5" y="131.90" class="pl">2</text>
<text x="72.5" y="164.40" class="pl">3</text>
<text x="79.8" y="157.60" class="pl">4</text>
<text x="88.5" y="150.40" class="pl">5</text>
<text x="93.3" y="144.10" class="pl">6</text>
<text x="109.2" y="156.00" class="pl">7</text>
<text x="117.8" y="127.10" class="pl">8</text>
<text x="143.3" y="163.40" class="pl">9</text>
<text x="149.4" y="156.20" class="pl">10</text>
<text x="165.5" y="93.90" class="pl">11</text>
<text x="171.1" y="133.00" class="pl">12</text>
<text x="189.0" y="13.10" class="pl">13</text>
<text x="198.3" y="142.10" class="pl">15</text>
<text x="205.7" y="149.60" class="pl">16</text>
<text x="224.3" y="149.10" class="pl">17</text>
<text x="229.7" y="101.90" class="pl">18</text>
<text x="236" y="159.70" class="pl">19</text>
<text x="240" y="145.00" class="pl">20</text>
<text x="243.4" y="126.30" class="pl">21</text>
<text x="248.4" y="138.80" class="pl">22</text>
<text x="252" y="107.30" class="pl">23</text>
<text x="256.7" y="147.40" class="pl">25</text>
<text x="262.8" y="140.50" class="pl">26</text>
<text x="269.5" y="88.70" class="pl">27</text>
<text x="280.6" y="157.00" class="pl">28</text>
<text x="287.8" y="151.60" class="pl">29</text>
<text x="294" y="115.80" class="pl">30</text>
<text x="297.3" y="156.30" class="pl">31</text>
<text x="299.9" y="134.90" class="pl">33</text>
<text x="307.5" y="152.40" class="pl">35</text>
<text x="308.0" y="129.70" class="pl">36</text>
<!-- bottom panel -->
<path class="grn" d="M26.50,362.60 L26.70,362.60 L26.90,362.60 L27.10,362.60 L27.30,362.60 L27.50,362.60 L27.70,362.60 L27.90,362.60 L28.10,362.60 L28.30,362.60 L28.50,362.60 L28.70,362.60 L28.90,362.60 L29.10,362.60 L29.30,362.60 L29.50,362.60 L29.70,362.60 L29.90,362.60 L30.10,362.60 L30.30,362.60 L30.50,362.60 L30.70,362.60 L30.90,362.60 L31.20,362.60 L31.35,346.50 L31.80,345.50 L32.30,322.00 L32.70,330.00 L33.80,338.00 L34.25,300.00 L34.30,185.60 L34.60,185.60 L34.75,300.00 L35.00,345.00 L35.30,349.50 L35.90,351.50 L35.90,351.15 L36.10,351.54 L36.30,351.92 L36.50,352.31 L36.70,352.45 L36.90,352.36 L37.10,352.25 L37.30,352.11 L37.50,351.89 L37.70,351.55 L37.90,351.03 L38.10,350.34 L38.30,349.57 L38.50,348.89 L38.70,348.57 L38.80,348.60 L38.90,348.76 L39.10,349.36 L39.30,350.08 L39.50,350.65 L39.70,350.95 L39.90,350.91 L40.10,350.39 L40.30,348.87 L40.50,345.90 L40.70,342.04 L40.90,339.16 L41.00,338.74 L41.10,339.16 L41.30,342.03 L41.50,345.91 L41.70,348.93 L41.90,350.55 L42.10,351.18 L42.30,351.28 L42.50,350.90 L42.70,349.63 L42.90,347.09 L43.10,343.71 L43.30,341.13 L43.40,340.72 L43.50,341.03 L43.70,343.41 L43.90,346.57 L44.10,348.86 L44.30,349.90 L44.50,350.24 L44.70,350.48 L44.90,350.84 L45.10,351.28 L45.30,351.67 L45.50,351.94 L45.70,352.11 L45.90,352.23 L46.10,352.29 L46.30,352.14 L46.50,351.24 L46.70,348.64 L46.90,343.61 L47.10,337.06 L47.30,332.16 L47.40,331.41 L47.50,332.05 L47.70,336.69 L47.90,342.90 L48.10,347.59 L48.30,349.97 L48.50,350.91 L48.70,351.38 L48.90,351.83 L49.10,352.25 L49.30,352.58 L49.50,352.78 L49.70,352.88 L49.90,352.89 L50.10,352.82 L50.30,352.65 L50.50,352.41 L50.70,352.17 L50.90,352.06 L51.10,352.10 L51.30,352.27 L51.50,352.49 L51.70,352.66 L51.90,352.71 L52.10,352.65 L52.30,352.52 L52.50,352.28 L52.70,351.48 L52.90,348.81 L53.10,342.78 L53.30,334.89 L53.50,330.94 L53.70,334.29 L53.90,338.73 L54.10,328.42 L54.30,276.52 L54.50,185.60 L54.70,185.60 L54.90,185.60 L55.00,185.60 L55.10,185.60 L55.30,185.60 L55.50,185.60 L55.70,276.88 L55.90,331.26 L56.10,347.46 L56.30,350.79 L56.50,351.22 L56.70,351.20 L56.90,351.15 L57.10,351.14 L57.30,351.21 L57.50,351.32 L57.70,351.48 L57.90,351.63 L58.10,351.71 L58.30,351.68 L58.50,351.56 L58.70,351.40 L58.90,351.27 L59.10,351.20 L59.30,351.19 L59.50,351.21 L59.70,351.26 L59.90,351.31 L60.10,351.33 L60.30,351.32 L60.50,351.25 L60.70,351.03 L60.90,350.19 L61.10,347.81 L61.30,343.65 L61.50,339.94 L61.60,339.36 L61.70,339.92 L61.90,343.22 L62.10,345.02 L62.30,340.15 L62.50,328.01 L62.70,316.47 L62.80,314.62 L62.90,316.37 L63.10,327.91 L63.30,340.80 L63.50,348.08 L63.70,350.50 L63.90,350.91 L64.10,350.79 L64.30,350.55 L64.50,350.34 L64.70,350.26 L64.90,350.36 L65.10,350.58 L65.30,350.78 L65.50,350.84 L65.70,350.72 L65.90,350.48 L66.10,350.30 L66.30,350.29 L66.50,350.46 L66.70,350.75 L66.90,351.04 L67.10,351.27 L67.30,351.44 L67.50,351.57 L67.70,351.69 L67.90,351.82 L68.10,351.96 L68.30,352.07 L68.50,352.10 L68.70,351.95 L68.90,351.67 L69.10,351.38 L69.30,351.23 L69.50,351.26 L69.70,351.44 L69.90,351.66 L70.10,351.85 L70.30,351.97 L70.50,352.00 L70.70,351.91 L70.90,351.76 L71.10,351.64 L71.30,351.64 L71.50,351.75 L71.70,351.91 L71.90,352.06 L72.10,352.10 L72.30,351.92 L72.50,351.41 L72.70,350.41 L72.90,349.01 L73.10,347.72 L73.30,347.18 L73.50,347.72 L73.70,349.01 L73.90,350.37 L74.10,351.32 L74.30,351.78 L74.50,351.90 L74.70,351.89 L74.90,351.88 L75.10,351.91 L75.30,351.99 L75.50,352.07 L75.70,352.15 L75.90,352.22 L76.10,352.29 L76.30,352.37 L76.50,352.46 L76.70,352.51 L76.90,352.47 L77.10,352.31 L77.30,352.02 L77.50,351.63 L77.70,351.22 L77.90,350.93 L78.10,350.86 L78.30,351.01 L78.50,351.24 L78.70,351.36 L78.90,351.31 L79.10,351.15 L79.30,351.05 L79.50,351.12 L79.70,351.35 L79.90,351.62 L80.10,351.78 L80.30,351.75 L80.50,351.49 L80.70,351.01 L80.90,350.23 L81.10,349.02 L81.30,347.53 L81.50,346.52 L81.60,346.49 L81.70,346.83 L81.90,348.33 L82.10,349.93 L82.30,350.81 L82.50,350.97 L82.70,350.86 L82.90,350.87 L83.10,351.08 L83.30,351.43 L83.50,351.77 L83.70,352.01 L83.90,352.17 L84.10,352.27 L84.30,352.37 L84.50,352.46 L84.70,352.52 L84.90,352.52 L85.10,352.46 L85.30,352.37 L85.50,352.30 L85.70,352.24 L85.90,352.19 L86.10,352.12 L86.30,352.02 L86.50,351.85 L86.70,351.66 L86.90,351.52 L87.10,351.49 L87.30,351.59 L87.50,351.77 L87.70,351.95 L87.90,352.08 L88.10,352.14 L88.30,352.16 L88.50,352.13 L88.70,352.08 L88.90,352.03 L89.10,351.99 L89.30,351.99 L89.50,352.01 L89.70,352.03 L89.90,352.01 L90.10,351.91 L90.30,351.76 L90.50,351.62 L90.70,351.53 L90.90,351.43 L91.10,350.99 L91.30,349.51 L91.50,346.60 L91.70,343.22 L91.90,341.68 L92.10,343.27 L92.30,346.73 L92.50,349.77 L92.70,351.39 L92.90,351.80 L93.10,350.90 L93.30,347.03 L93.50,338.08 L93.70,326.37 L93.90,320.60 L94.10,326.36 L94.30,338.08 L94.50,347.03 L94.70,350.92 L94.90,351.97 L95.10,352.15 L95.30,352.17 L95.50,352.17 L95.70,352.17 L95.90,352.16 L96.10,352.11 L96.30,351.89 L96.50,351.22 L96.70,349.73 L96.90,347.54 L97.10,345.74 L97.20,345.43 L97.30,345.63 L97.50,347.26 L97.70,349.41 L97.90,350.96 L98.10,351.73 L98.30,352.02 L98.50,352.11 L98.70,352.14 L98.90,352.15 L99.10,352.14 L99.30,352.14 L99.50,352.14 L99.70,352.14 L99.90,352.14 L100.10,352.14 L100.30,352.14 L100.50,352.15 L100.70,352.17 L100.90,352.21 L101.10,352.30 L101.30,352.41 L101.50,352.52 L101.70,352.57 L101.90,352.46 L102.10,352.07 L102.30,351.27 L102.50,350.13 L102.70,349.15 L102.80,348.91 L102.90,348.90 L103.10,349.38 L103.30,350.09 L103.50,350.64 L103.70,351.03 L103.90,351.35 L104.10,351.63 L104.30,351.79 L104.50,351.80 L104.70,351.66 L104.90,351.45 L105.10,351.28 L105.30,351.25 L105.50,351.38 L105.70,351.60 L105.90,351.80 L106.10,351.93 L106.30,351.93 L106.50,351.78 L106.70,351.49 L106.90,351.12 L107.10,350.78 L107.30,350.65 L107.50,350.79 L107.70,351.13 L107.90,351.51 L108.10,351.80 L108.30,351.97 L108.50,352.05 L108.70,352.05 L108.90,352.01 L109.10,351.89 L109.30,351.70 L109.50,351.47 L109.70,351.26 L109.90,351.15 L110.10,350.97 L110.30,349.89 L110.50,346.32 L110.70,339.79 L110.90,333.88 L111.00,332.97 L111.10,333.94 L111.30,340.02 L111.50,346.82 L111.70,350.76 L111.90,352.20 L112.10,352.58 L112.30,352.63 L112.50,352.54 L112.70,352.39 L112.90,352.25 L113.10,352.15 L113.30,352.10 L113.50,352.08 L113.70,352.07 L113.90,352.06 L114.10,352.06 L114.30,352.06 L114.50,352.06 L114.70,352.06 L114.90,352.06 L115.10,352.06 L115.30,352.06 L115.50,352.05 L115.70,352.05 L115.90,352.05 L116.10,352.05 L116.30,352.05 L116.50,352.05 L116.70,352.05 L116.90,352.05 L117.10,352.05 L117.30,352.04 L117.50,352.04 L117.70,352.04 L117.90,352.03 L118.10,351.90 L118.30,351.18 L118.50,348.51 L118.70,342.38 L118.90,334.35 L119.10,330.40 L119.30,334.35 L119.50,342.37 L119.70,348.50 L119.90,351.15 L120.10,351.82 L120.30,351.83 L120.50,351.62 L120.70,351.29 L120.90,350.93 L121.10,350.69 L121.30,350.69 L121.50,350.93 L121.70,351.28 L121.90,351.58 L122.10,351.75 L122.30,351.77 L122.50,351.69 L122.70,351.57 L122.90,351.50 L123.10,351.52 L123.30,351.62 L123.50,351.74 L123.70,351.80 L123.90,351.75 L124.10,351.54 L124.30,351.16 L124.50,350.72 L124.70,350.39 L124.90,350.34 L125.10,350.59 L125.30,351.00 L125.50,351.40 L125.70,351.68 L125.90,351.81 L126.10,351.84 L126.30,351.83 L126.50,351.82 L126.70,351.81 L126.90,351.79 L127.10,351.77 L127.30,351.74 L127.50,351.70 L127.70,351.67 L127.90,351.62 L128.10,351.48 L128.30,351.16 L128.50,350.61 L128.70,349.91 L128.90,349.31 L129.00,349.11 L129.10,349.01 L129.30,349.03 L129.50,349.24 L129.70,349.53 L129.90,349.91 L130.10,350.37 L130.30,350.84 L130.50,351.21 L130.70,351.44 L130.90,351.54 L131.10,351.58 L131.30,351.59 L131.50,351.59 L131.70,351.56 L131.90,351.45 L132.10,351.12 L132.30,350.47 L132.50,349.54 L132.70,348.65 L132.90,348.25 L133.10,348.56 L133.30,349.38 L133.50,350.26 L133.70,350.91 L133.90,351.28 L134.10,351.48 L134.30,351.63 L134.50,351.77 L134.70,351.87 L134.90,351.87 L135.10,351.78 L135.30,351.63 L135.50,351.48 L135.70,351.36 L135.90,351.26 L136.10,351.13 L136.30,350.91 L136.50,350.59 L136.70,350.25 L136.90,350.06 L137.00,350.07 L137.10,350.16 L137.30,350.47 L137.50,350.83 L137.70,351.08 L137.90,351.20 L138.10,351.29 L138.30,351.43 L138.50,351.62 L138.70,351.83 L138.90,351.94 L139.10,351.89 L139.30,351.70 L139.50,351.45 L139.70,351.24 L139.90,351.10 L140.10,351.00 L140.30,350.89 L140.50,350.72 L140.70,350.46 L140.90,350.10 L141.10,349.75 L141.30,349.53 L141.50,349.55 L141.70,349.76 L141.90,350.04 L142.10,350.23 L142.30,350.28 L142.50,350.23 L142.70,350.12 L142.90,349.92 L143.10,349.52 L143.30,348.92 L143.50,348.42 L143.60,348.33 L143.70,348.39 L143.90,348.84 L144.10,349.42 L144.30,349.82 L144.50,350.02 L144.70,350.13 L144.90,350.21 L145.10,350.27 L145.30,350.33 L145.50,350.42 L145.70,350.56 L145.90,350.74 L146.10,350.89 L146.30,350.93 L146.50,350.83 L146.70,350.62 L146.90,350.39 L147.10,350.21 L147.30,350.09 L147.50,350.03 L147.70,350.00 L147.90,350.00 L148.10,350.03 L148.30,350.08 L148.50,350.11 L148.70,350.05 L148.90,349.64 L149.10,348.22 L149.30,345.07 L149.50,341.02 L149.70,339.09 L149.90,341.20 L150.10,345.41 L150.30,348.68 L150.50,350.10 L150.70,350.39 L150.90,350.28 L151.10,350.12 L151.30,350.03 L151.50,350.01 L151.70,349.99 L151.90,349.90 L152.10,349.73 L152.30,349.51 L152.50,349.22 L152.70,348.79 L152.90,348.05 L153.10,346.92 L153.30,345.61 L153.50,344.77 L153.60,344.74 L153.70,345.01 L153.90,346.20 L154.10,347.55 L154.30,348.46 L154.50,348.87 L154.70,348.98 L154.90,348.97 L155.10,348.92 L155.30,348.84 L155.50,348.75 L155.70,348.68 L155.90,348.65 L156.10,348.68 L156.30,348.74 L156.50,348.79 L156.70,348.79 L156.90,348.71 L157.10,348.53 L157.30,348.31 L157.50,348.11 L157.70,348.02 L157.90,348.10 L158.10,348.29 L158.30,348.50 L158.50,348.66 L158.70,348.75 L158.90,348.79 L159.10,348.80 L159.30,348.81 L159.50,348.82 L159.70,348.84 L159.90,348.85 L160.10,348.85 L160.30,348.83 L160.50,348.80 L160.70,348.76 L160.90,348.73 L161.10,348.70 L161.30,348.68 L161.50,348.67 L161.70,348.64 L161.90,348.62 L162.10,348.59 L162.30,348.57 L162.50,348.56 L162.70,348.56 L162.90,348.56 L163.10,348.56 L163.30,348.53 L163.50,348.45 L163.70,348.29 L163.90,348.04 L164.10,347.76 L164.30,347.54 L164.50,347.49 L164.70,347.63 L164.90,347.89 L165.10,348.13 L165.30,348.27 L165.50,348.27 L165.70,348.12 L165.90,347.81 L166.10,347.19 L166.30,345.62 L166.50,341.56 L166.70,332.80 L166.90,318.41 L167.10,301.60 L167.30,289.83 L167.40,288.14 L167.50,289.76 L167.70,301.07 L167.90,316.00 L168.10,325.17 L168.30,323.81 L168.50,314.63 L168.70,306.19 L168.80,305.00 L168.90,306.51 L169.10,316.09 L169.30,328.07 L169.50,334.92 L169.70,333.85 L169.90,327.49 L170.10,321.74 L170.20,320.80 L170.30,321.50 L170.50,326.54 L170.70,332.15 L170.90,334.54 L171.10,334.66 L171.20,335.00 L171.30,335.97 L171.50,339.67 L171.70,343.89 L171.90,346.70 L172.10,347.93 L172.30,348.30 L172.50,348.37 L172.70,348.38 L172.90,348.40 L173.10,348.44 L173.30,348.55 L173.50,348.75 L173.70,349.04 L173.90,349.34 L174.10,349.53 L174.30,349.52 L174.50,349.35 L174.70,349.14 L174.90,349.03 L175.10,349.04 L175.30,349.08 L175.50,349.07 L175.70,348.95 L175.90,348.79 L176.10,348.66 L176.30,348.64 L176.50,348.71 L176.70,348.81 L176.90,348.87 L177.10,348.85 L177.30,348.77 L177.50,348.70 L177.70,348.70 L177.90,348.76 L178.10,348.80 L178.30,348.79 L178.50,348.69 L178.70,348.55 L178.90,348.41 L179.10,348.28 L179.30,348.11 L179.50,347.86 L179.70,347.47 L179.90,347.04 L180.10,346.70 L180.30,346.64 L180.50,346.87 L180.70,347.28 L180.90,347.69 L181.10,347.99 L181.30,348.15 L181.50,348.22 L181.70,348.25 L181.90,348.26 L182.10,348.25 L182.30,348.23 L182.50,348.21 L182.70,348.15 L182.90,348.03 L183.10,347.83 L183.30,347.57 L183.50,347.33 L183.70,347.23 L183.90,347.31 L184.10,347.51 L184.30,347.75 L184.50,347.61 L184.70,345.99 L184.90,341.11 L185.10,329.30 L185.20,319.49 L185.30,306.67 L185.50,273.18 L185.70,236.89 L185.90,212.60 L186.00,209.20 L186.10,210.15 L186.30,212.05 L186.50,214.50 L186.70,217.50 L186.90,220.50 L187.10,223.50 L187.30,226.50 L187.50,229.50 L187.70,232.50 L187.90,235.50 L188.10,238.50 L188.30,241.83 L188.50,245.50 L188.70,249.17 L188.90,252.83 L189.10,256.50 L189.30,260.17 L189.50,264.80 L189.70,270.40 L189.90,276.00 L190.10,281.60 L190.30,287.20 L190.50,293.86 L190.70,301.57 L190.90,309.29 L191.10,317.00 L191.30,321.00 L191.50,325.00 L191.70,329.00 L191.90,333.00 L192.10,335.73 L192.30,337.20 L192.50,338.67 L192.70,340.13 L192.90,341.60 L193.10,343.07 L193.30,344.53 L193.50,346.00 L193.70,346.30 L193.90,346.60 L194.10,346.90 L194.30,346.94 L194.50,346.69 L194.70,346.34 L194.90,346.04 L195.00,345.97 L195.10,345.99 L195.30,346.17 L195.50,346.30 L195.70,346.16 L195.90,345.79 L196.10,345.42 L196.30,345.26 L196.50,345.44 L196.70,345.87 L196.90,346.32 L197.10,346.61 L197.30,346.64 L197.50,346.32 L197.70,345.57 L197.90,344.43 L198.10,343.33 L198.30,343.01 L198.50,343.76 L198.70,345.04 L198.90,346.02 L199.10,346.35 L199.30,346.22 L199.50,345.95 L199.70,345.83 L199.90,345.96 L200.10,346.26 L200.30,346.52 L200.50,346.59 L200.70,346.41 L200.90,346.09 L201.10,345.82 L201.30,345.80 L201.50,346.05 L201.70,346.44 L201.90,346.73 L202.10,346.75 L202.30,346.48 L202.50,346.09 L202.60,345.93 L202.70,345.83 L202.90,345.83 L203.10,346.02 L203.30,346.31 L203.50,346.66 L203.70,347.00 L203.90,347.27 L204.10,347.44 L204.30,347.55 L204.50,347.63 L204.70,347.69 L204.90,347.71 L205.10,347.63 L205.30,347.37 L205.50,346.96 L205.70,346.63 L205.80,346.59 L205.90,346.65 L206.10,347.04 L206.30,347.60 L206.50,348.12 L206.70,348.51 L206.90,348.71 L207.10,348.69 L207.30,348.47 L207.50,348.13 L207.70,347.78 L207.90,347.49 L208.10,347.27 L208.30,347.07 L208.50,346.85 L208.70,346.64 L208.90,346.59 L209.10,346.76 L209.30,346.98 L209.50,347.01 L209.70,346.80 L209.90,346.53 L210.10,346.41 L210.30,346.53 L210.50,346.81 L210.70,347.10 L210.90,347.26 L211.10,347.31 L211.30,347.34 L211.50,347.42 L211.70,347.56 L211.90,347.72 L212.10,347.94 L212.30,348.18 L212.50,348.33 L212.70,348.40 L212.90,348.43 L213.10,348.52 L213.30,348.73 L213.50,349.06 L213.70,349.47 L213.90,349.86 L214.10,350.20 L214.30,350.47 L214.50,350.68 L214.70,350.84 L214.90,350.96 L215.10,351.05 L215.30,351.17 L215.50,351.38 L215.70,351.66 L215.90,352.01 L216.10,352.23 L216.30,352.31 L216.50,352.33 L216.70,352.29 L216.90,352.21 L217.10,352.11 L217.30,352.04 L217.50,352.03 L217.70,352.09 L217.90,352.19 L218.10,352.28 L218.30,352.36 L218.50,352.41 L218.70,352.48 L218.90,352.57 L219.10,352.68 L219.30,352.77 L219.50,352.81 L219.70,352.76 L219.90,352.67 L220.10,352.55 L220.30,352.45 L220.50,352.34 L220.70,352.18 L220.90,351.97 L221.10,351.71 L221.30,351.51 L221.50,351.44 L221.70,351.53 L221.90,351.66 L222.10,351.69 L222.30,351.49 L222.50,351.09 L222.70,350.65 L222.90,350.43 L223.10,350.56 L223.30,350.99 L223.50,351.51 L223.70,351.94 L223.90,352.17 L224.10,352.22 L224.30,352.08 L224.50,351.76 L224.70,351.28 L224.90,350.74 L225.10,350.13 L225.30,349.01 L225.50,346.73 L225.70,343.77 L225.90,342.49 L226.10,344.45 L226.30,348.02 L226.50,350.70 L226.70,351.85 L226.90,352.15 L227.10,352.19 L227.30,352.18 L227.50,352.17 L227.70,352.15 L227.90,352.14 L228.10,352.13 L228.30,352.11 L228.50,352.10 L228.70,352.09 L228.90,352.07 L229.10,352.06 L229.30,352.05 L229.50,352.03 L229.70,352.02 L229.90,352.01 L230.10,352.00 L230.30,351.99 L230.50,351.89 L230.70,351.10 L230.90,347.45 L231.10,337.53 L231.30,323.04 L231.50,315.50 L231.70,323.04 L231.90,337.53 L232.10,347.45 L232.30,351.10 L232.50,351.89 L232.70,351.99 L232.90,352.00 L233.10,352.00 L233.30,352.00 L233.50,352.00 L233.70,352.00 L233.90,352.00 L234.10,352.00 L234.30,351.98 L234.50,351.90 L234.70,351.56 L234.90,350.62 L235.10,348.88 L235.30,346.90 L235.50,346.00 L235.70,346.90 L235.90,348.88 L236.10,350.62 L236.30,351.56 L236.50,351.90 L236.70,351.98 L236.90,352.00 L237.10,352.00 L237.30,352.00 L237.50,352.00 L237.70,352.00 L237.90,352.00 L238.10,352.00 L238.30,352.00 L238.50,352.00 L238.70,352.00 L238.90,352.00 L239.10,352.00 L239.30,352.00 L239.50,352.00 L239.70,351.99 L239.90,351.92 L240.10,351.57 L240.30,350.40 L240.50,347.75 L240.70,343.83 L240.90,340.67 L241.00,340.20 L241.10,340.67 L241.30,343.83 L241.50,347.75 L241.70,350.40 L241.90,351.57 L242.10,351.92 L242.30,351.99 L242.50,352.00 L242.70,352.00 L242.90,352.00 L243.10,352.00 L243.30,352.00 L243.50,352.00 L243.70,352.00 L243.90,352.00 L244.10,352.00 L244.30,352.00 L244.50,352.00 L244.70,352.00 L244.90,352.00 L245.10,351.99 L245.30,351.87 L245.50,351.20 L245.70,348.74 L245.90,343.07 L246.10,335.65 L246.30,332.00 L246.50,335.65 L246.70,343.07 L246.90,348.74 L247.10,351.20 L247.30,351.87 L247.50,351.95 L247.70,351.80 L247.90,351.13 L248.10,349.29 L248.30,345.86 L248.50,341.98 L248.70,340.20 L248.90,341.98 L249.10,345.86 L249.30,349.29 L249.50,351.13 L249.70,351.80 L249.90,351.97 L250.10,352.00 L250.30,352.00 L250.50,352.00 L250.70,352.00 L250.90,352.00 L251.10,351.98 L251.30,351.82 L251.50,350.89 L251.70,347.44 L251.90,339.50 L252.10,329.11 L252.30,324.00 L252.50,329.11 L252.70,339.48 L252.90,347.32 L253.10,350.30 L253.30,349.65 L253.50,346.21 L253.70,340.92 L253.90,336.64 L254.00,336.00 L254.10,336.64 L254.30,340.92 L254.50,346.23 L254.70,349.83 L254.90,351.41 L255.10,351.89 L255.30,351.98 L255.50,352.00 L255.70,352.00 L255.90,351.99 L256.10,351.92 L256.30,351.64 L256.50,350.87 L256.70,349.45 L256.90,347.84 L257.10,347.10 L257.30,347.84 L257.50,349.45 L257.70,350.87 L257.90,351.64 L258.10,351.92 L258.30,351.99 L258.50,352.00 L258.70,352.00 L258.90,352.00 L259.10,352.00 L259.30,352.00 L259.50,352.00 L259.70,352.00 L259.90,352.00 L260.10,352.01 L260.30,352.04 L260.50,352.07 L260.70,352.10 L260.90,352.13 L261.10,352.15 L261.30,352.11 L261.50,351.83 L261.70,350.82 L261.90,348.47 L262.10,345.00 L262.30,342.21 L262.40,341.80 L262.50,342.24 L262.70,345.09 L262.90,348.62 L263.10,351.03 L263.30,352.10 L263.50,352.44 L263.70,352.53 L263.90,352.57 L264.10,352.60 L264.30,352.63 L264.50,352.66 L264.70,352.69 L264.90,352.72 L265.10,352.75 L265.30,352.77 L265.50,352.80 L265.70,352.83 L265.90,352.86 L266.10,352.89 L266.30,352.92 L266.50,352.95 L266.70,352.98 L266.90,353.01 L267.10,353.04 L267.30,353.07 L267.50,353.10 L267.70,353.13 L267.90,353.15 L268.10,353.18 L268.30,353.21 L268.50,353.24 L268.70,353.27 L268.90,353.30 L269.10,353.32 L269.30,353.26 L269.50,352.63 L269.70,349.62 L269.90,340.71 L270.10,324.96 L270.30,310.82 L270.40,308.60 L270.50,310.75 L270.70,324.50 L270.90,338.84 L271.10,344.43 L271.30,342.53 L271.50,339.21 L271.60,338.70 L271.70,339.34 L271.90,343.38 L272.10,348.37 L272.30,351.77 L272.50,353.28 L272.70,353.75 L272.90,353.87 L273.10,353.90 L273.30,353.90 L273.50,353.90 L273.70,353.90 L273.90,353.90 L274.10,353.91 L274.30,353.90 L274.50,353.90 L274.70,353.89 L274.90,353.86 L275.10,353.82 L275.30,353.77 L275.50,353.74 L275.70,353.75 L275.90,353.79 L276.10,353.87 L276.30,353.99 L276.50,354.16 L276.70,354.39 L276.90,354.61 L277.10,354.75 L277.30,354.75 L277.50,354.62 L277.70,354.45 L277.90,354.33 L278.10,354.29 L278.30,354.29 L278.50,354.26 L278.70,354.20 L278.90,354.11 L279.10,354.03 L279.30,353.98 L279.50,353.96 L279.70,353.97 L279.90,354.00 L280.10,354.03 L280.30,353.98 L280.50,353.71 L280.70,353.19 L280.90,352.70 L281.00,352.59 L281.10,352.61 L281.30,352.97 L281.50,353.45 L281.70,353.77 L281.90,353.86 L282.10,353.72 L282.30,353.19 L282.50,352.18 L282.70,351.03 L282.90,350.52 L283.10,351.09 L283.30,352.30 L283.50,353.37 L283.70,353.98 L283.90,354.27 L284.10,354.40 L284.30,354.43 L284.50,354.37 L284.70,354.26 L284.90,354.14 L285.10,354.04 L285.30,353.98 L285.50,353.94 L285.70,353.88 L285.90,353.80 L286.10,353.72 L286.30,353.66 L286.50,353.65 L286.70,353.71 L286.90,353.79 L287.10,353.87 L287.30,353.89 L287.50,353.76 L287.70,353.28 L287.90,352.18 L288.10,350.57 L288.30,349.29 L288.40,349.10 L288.50,349.29 L288.70,350.58 L288.90,352.18 L289.10,353.25 L289.30,353.69 L289.50,353.78 L289.70,353.74 L289.90,353.70 L290.10,353.71 L290.30,353.77 L290.50,353.85 L290.70,353.92 L290.90,353.96 L291.10,353.99 L291.30,354.01 L291.50,354.05 L291.70,354.11 L291.90,354.21 L292.10,354.33 L292.30,354.42 L292.50,354.42 L292.70,354.16 L292.90,352.78 L293.10,348.16 L293.30,338.93 L293.50,329.96 L293.60,328.52 L293.70,329.94 L293.90,338.86 L294.10,348.01 L294.30,352.52 L294.50,353.78 L294.70,353.99 L294.90,354.02 L295.10,354.02 L295.30,354.02 L295.50,354.02 L295.70,354.02 L295.90,354.02 L296.10,354.02 L296.30,354.02 L296.50,353.99 L296.70,353.85 L296.90,353.39 L297.10,352.32 L297.30,350.75 L297.50,349.49 L297.60,349.30 L297.70,349.49 L297.90,350.76 L298.10,352.33 L298.30,353.40 L298.50,353.86 L298.70,354.01 L298.90,354.04 L299.10,354.04 L299.30,354.04 L299.50,354.04 L299.70,354.03 L299.90,353.95 L300.10,353.46 L300.30,351.63 L300.50,347.42 L300.70,341.91 L300.90,339.20 L301.10,341.91 L301.30,347.42 L301.50,351.63 L301.70,353.43 L301.90,353.77 L302.10,353.24 L302.30,351.51 L302.50,348.30 L302.70,344.67 L302.90,343.00 L303.10,344.67 L303.30,348.31 L303.50,351.52 L303.70,353.25 L303.90,353.88 L304.10,354.03 L304.30,354.05 L304.50,353.95 L304.70,353.55 L304.90,352.44 L305.10,350.39 L305.30,348.06 L305.50,347.00 L305.70,348.07 L305.90,350.40 L306.10,352.45 L306.30,353.56 L306.50,353.96 L306.70,354.06 L306.90,354.08 L307.10,354.08 L307.30,354.09 L307.50,354.08 L307.70,354.03 L307.90,353.61 L308.10,351.66 L308.30,346.37 L308.50,338.63 L308.70,334.60 L308.90,338.63 L309.10,346.37 L309.30,351.67 L309.50,353.62 L309.70,354.04 L309.90,354.09 L310.10,354.12 L310.30,354.17 L310.50,354.21 L310.70,354.25 L310.90,354.30 L311.10,354.35 L311.30,354.40 L311.50,354.46 L311.70,354.53 L311.90,354.61 L312.10,354.68 L312.30,354.72 L312.50,354.75 L312.70,354.77 L312.90,354.79 L313.10,354.82 L313.30,354.87 L313.50,354.92 L313.70,354.96 L313.90,354.98 L314.10,354.97 L314.30,354.92 L314.50,354.83 L314.70,354.72 L314.90,354.66 L315.10,354.68 L315.30,354.79 L315.50,354.96 L315.70,355.12 L315.90,355.26 L316.10,355.37 L316.30,355.47 L316.50,355.55 L316.70,355.60 L316.90,355.63 L317.10,355.64 L317.30,355.67 L317.50,355.73 L317.70,355.81 L317.90,355.86 L318.10,355.86 L318.30,355.81 L318.50,355.75 L318.70,355.71 L318.90,355.68 L319.10,355.67 L319.30,355.66 L319.50,355.64 L319.70,355.57 L319.90,355.41 L320.10,355.20 L320.30,355.01 L320.50,354.94 L320.70,355.04 L320.90,355.24 L321.10,355.42 L321.30,355.55 L321.50,355.67 L321.70,355.85 L321.90,356.07 L322.10,356.29 L322.30,356.47 L322.50,356.61 L322.70,356.71 L322.90,356.79 L323.10,356.88 L323.30,356.97 L323.50,357.07 L323.70,357.17 L323.90,357.25 L324.10,357.31 L324.30,357.35 L324.50,357.38 L324.70,357.42 L324.90,357.45 L325.10,357.44 L325.30,357.37 L325.50,357.26 L325.70,357.15 L325.90,357.08 L326.10,357.11 L326.30,357.20 L326.50,357.31 L326.70,357.37 L326.90,357.36 L327.10,357.31 L327.30,357.29 L327.50,357.35 L327.70,357.48 L327.90,357.61 L328.10,357.71 L328.30,357.74 L328.50,357.71 L328.70,357.64 L328.90,357.58 L329.10,357.57 L329.30,357.64 L329.50,357.75 L329.70,357.86 L329.90,357.94 L330.10,357.96 L330.30,357.94 L330.50,357.91 L330.70,357.91 L330.90,357.94 L331.10,358.02 L331.30,358.09 L331.50,358.12 L331.70,358.08 L331.90,357.93 L332.10,357.70 L332.30,357.49 L332.50,357.45 L332.70,357.60 L332.90,357.88 L333.10,358.16 L333.30,358.34 L333.50,358.43 L333.70,358.47 L333.90,358.47 L334.10,358.45 L334.30,358.38 L334.50,358.29 L334.70,358.21 L334.90,358.19 L335.10,358.25 L335.30,358.37 L335.50,358.51 L335.70,358.62 L335.90,358.70 L336.10,358.74 L336.30,358.77 L336.50,358.79 L336.70,358.81 L336.90,358.84 L337.10,358.86 L337.30,358.89 L337.50,358.91 L337.70,358.94 L337.90,358.96 L338.10,358.98 L338.30,359.01 L338.50,359.03 L338.70,359.05 L338.90,359.08 L339.10,359.10 L339.30,359.12 L339.50,359.14 L339.70,359.17 L339.90,359.19 L340.10,359.22 L340.30,359.27 L340.50,359.31 L340.70,359.35 L340.90,359.39 L341.10,359.43 L341.30,359.46 L341.50,359.49 L341.70,359.53 L341.90,359.58 L342.10,359.63 L342.30,359.69 L342.50,359.74 L342.70,359.79 L342.90,359.84 L343.10,359.89 L343.30,359.94 L343.50,359.98 L343.70,360.03 L343.90,360.08 L344.10,360.14 L344.30,360.21 L344.50,360.27 L344.70,360.33 L344.90,360.37 L345.10,360.38 L345.30,360.38 L345.50,360.41 L345.70,360.47 L345.90,360.55 L346.10,360.61 L346.30,360.64 L346.50,360.61 L346.70,360.54 L346.90,360.47 L347.10,360.41 L347.30,360.38 L347.50,360.36 L347.70,360.35 L347.90,360.34 L348.10,360.33 L348.30,360.34 L348.50,360.37 L348.70,360.42 L348.90,360.49 L349.10,360.57 L349.30,360.62 L349.50,360.64 L349.70,360.62 L349.90,360.58 L350.10,360.53 L350.30,360.50 L350.50,360.48 L350.70,360.48 L350.90,360.49 L351.10,360.52 L351.30,360.57 L351.50,360.64 L351.70,360.70 L351.90,360.74 L352.10,360.73 L352.30,360.68 L352.50,360.62 L352.70,360.53 L352.90,360.43 L353.10,360.30 L353.30,360.16 L353.50,360.04 L353.70,360.01 L353.90,360.08 L354.10,360.22 L354.30,360.36 L354.50,360.47 L354.70,360.53 L354.90,360.55 L355.10,360.57 L355.30,360.59 L355.50,360.61 L355.70,360.62 L355.90,360.64 L356.10,360.66 L356.30,360.69 L356.50,360.73 L356.70,360.71 L356.90,359.97 L357.10,357.37 L357.30,355.33 L357.50,357.40 L357.70,360.00 L357.90,360.68 L358.10,360.58 L358.30,360.40 L358.50,360.28 L358.70,360.26 L358.90,360.34 L359.10,360.49 L359.30,360.63 L359.50,360.74 L359.70,360.81 L359.90,360.85 L360.10,360.88 L360.30,360.92 L360.50,360.96 L360.70,360.99 L360.90,361.00 L361.10,360.99 L361.30,360.98 L361.50,360.96 L361.70,360.96 L361.90,360.98 L362.10,361.01 L362.30,361.05 L362.50,361.09 L362.70,361.11 L362.90,361.10 L363.10,361.08 L363.30,361.06 L363.50,361.05 L363.70,361.04 L363.90,361.03 L364.10,361.01 L364.30,360.96 L364.50,360.86 L364.70,360.73 L364.90,360.61 L365.10,360.55 L365.30,360.60 L365.50,360.73 L365.70,360.87 L365.90,360.97 L366.10,361.02 L366.30,361.04 L366.50,361.07 L366.70,361.11 L366.90,361.16 L367.10,361.20 L367.30,361.24 L367.50,361.25 L367.70,361.22 L367.90,361.10 L368.10,360.81 L368.30,360.38 L368.50,360.04 L368.60,359.99 L368.70,360.05 L368.90,360.43 L369.10,360.89 L369.30,361.17 L369.50,361.26 L369.70,361.23 L369.90,361.18 L370.10,361.16 L370.30,361.19 L370.50,361.23 L370.70,361.18 L370.90,360.91 L371.10,360.46 L371.30,360.08 L371.40,360.03 L371.50,360.11 L371.70,360.55 L371.90,361.07 L372.10,361.39 L372.30,361.41 L372.50,361.15 L372.70,360.70 L372.90,360.34 L373.00,360.29 L373.10,360.35 L373.30,360.74 L373.50,361.22 L373.70,361.55 L373.90,361.71 L374.10,361.77 L374.30,361.79 L374.50,361.78 L374.70,361.76 L374.90,361.70 L375.10,361.61 L375.30,361.53 L375.50,361.49 L375.70,361.53 L375.90,361.63 L376.10,361.75 L376.30,361.85 L376.50,361.90 L376.70,361.93 L376.90,361.94 L377.10,361.94 L377.30,361.96 L377.50,361.99 L377.70,362.02 L377.90,362.05 L378.10,362.08 L378.30,362.10 L378.50,362.12 L378.70,362.13 L378.90,362.15 L379.10,362.16 L379.30,362.17 L379.50,362.19 L379.70,362.20 L379.90,362.21 L380.10,362.22 L380.30,362.21 L380.50,362.20 L380.70,362.18 L380.90,362.18 L381.10,362.19 L381.30,362.22 L381.50,362.27 L381.70,362.31 L381.90,362.34 L382.10,362.35 L382.30,362.33 L382.50,362.29 L382.70,362.25 L382.90,362.23 L383.10,362.24 L383.30,362.29 L383.50,362.36 L383.70,362.43 L383.90,362.47 L384.10,362.46 L384.30,362.42 L384.50,362.34 L384.70,362.25 L384.90,362.19 L385.10,362.21 L385.30,362.30 L385.50,362.42 L385.70,362.54 L385.90,362.64 L386.10,362.70 L386.30,362.74 L386.50,362.77 L386.70,362.79 L386.90,362.79 L387.10,362.80 L387.30,362.80 L387.50,362.81 L387.70,362.82 L387.90,362.83 L388.10,362.83 L388.30,362.83 L388.50,362.82 L388.70,362.80 L388.90,362.80 L389.10,362.81 L389.30,362.85 L389.50,362.89 L389.70,362.94 L389.90,362.98 L390.10,363.00 L390.30,363.03 L390.50,363.05 L390.70,363.09 L390.90,363.15 L391.10,363.23 L391.30,363.30 L391.50,363.35 L391.70,363.35 L391.90,363.32"/>
<line x1="34.5" y1="185.6" x2="34.5" y2="330" stroke="#3e6e48" stroke-width="1.1"/>
<path class="fr" d="M26.3,185.5 H392.6 V363.1 H26.3 Z"/>
<line x1="22.6" y1="185.45" x2="26.3" y2="185.45" class="ax"/>
<line x1="24.6" y1="190.52" x2="26.3" y2="190.52" class="ax"/>
<line x1="24.6" y1="195.58" x2="26.3" y2="195.58" class="ax"/>
<line x1="24.6" y1="200.65" x2="26.3" y2="200.65" class="ax"/>
<line x1="24.6" y1="205.72" x2="26.3" y2="205.72" class="ax"/>
<line x1="22.6" y1="210.79" x2="26.3" y2="210.79" class="ax"/>
<line x1="24.6" y1="215.85" x2="26.3" y2="215.85" class="ax"/>
<line x1="24.6" y1="220.92" x2="26.3" y2="220.92" class="ax"/>
<line x1="24.6" y1="225.99" x2="26.3" y2="225.99" class="ax"/>
<line x1="24.6" y1="231.05" x2="26.3" y2="231.05" class="ax"/>
<line x1="22.6" y1="236.12" x2="26.3" y2="236.12" class="ax"/>
<line x1="24.6" y1="241.19" x2="26.3" y2="241.19" class="ax"/>
<line x1="24.6" y1="246.26" x2="26.3" y2="246.26" class="ax"/>
<line x1="24.6" y1="251.32" x2="26.3" y2="251.32" class="ax"/>
<line x1="24.6" y1="256.39" x2="26.3" y2="256.39" class="ax"/>
<line x1="22.6" y1="261.46" x2="26.3" y2="261.46" class="ax"/>
<line x1="24.6" y1="266.52" x2="26.3" y2="266.52" class="ax"/>
<line x1="24.6" y1="271.59" x2="26.3" y2="271.59" class="ax"/>
<line x1="24.6" y1="276.66" x2="26.3" y2="276.66" class="ax"/>
<line x1="24.6" y1="281.73" x2="26.3" y2="281.73" class="ax"/>
<line x1="22.6" y1="286.79" x2="26.3" y2="286.79" class="ax"/>
<line x1="24.6" y1="291.86" x2="26.3" y2="291.86" class="ax"/>
<line x1="24.6" y1="296.93" x2="26.3" y2="296.93" class="ax"/>
<line x1="24.6" y1="301.99" x2="26.3" y2="301.99" class="ax"/>
<line x1="24.6" y1="307.06" x2="26.3" y2="307.06" class="ax"/>
<line x1="22.6" y1="312.13" x2="26.3" y2="312.13" class="ax"/>
<line x1="24.6" y1="317.20" x2="26.3" y2="317.20" class="ax"/>
<line x1="24.6" y1="322.26" x2="26.3" y2="322.26" class="ax"/>
<line x1="24.6" y1="327.33" x2="26.3" y2="327.33" class="ax"/>
<line x1="24.6" y1="332.40" x2="26.3" y2="332.40" class="ax"/>
<line x1="22.6" y1="337.46" x2="26.3" y2="337.46" class="ax"/>
<line x1="24.6" y1="342.53" x2="26.3" y2="342.53" class="ax"/>
<line x1="24.6" y1="347.60" x2="26.3" y2="347.60" class="ax"/>
<line x1="24.6" y1="352.67" x2="26.3" y2="352.67" class="ax"/>
<line x1="24.6" y1="357.73" x2="26.3" y2="357.73" class="ax"/>
<line x1="22.6" y1="362.80" x2="26.3" y2="362.80" class="ax"/>
<text x="21.8" y="188.15" class="yl">0.35</text>
<text x="21.8" y="213.49" class="yl">0.30</text>
<text x="21.8" y="238.82" class="yl">0.25</text>
<text x="21.8" y="264.16" class="yl">0.20</text>
<text x="21.8" y="289.49" class="yl">0.15</text>
<text x="21.8" y="314.83" class="yl">0.10</text>
<text x="21.8" y="340.16" class="yl">0.05</text>
<text x="21.8" y="365.50" class="yl">0.00</text>
<line x1="26.30" y1="363.1" x2="26.30" y2="365.70000000000005" class="ax"/>
<text x="26.30" y="371.60" class="xl">0.00</text>
<line x1="33.56" y1="363.1" x2="33.56" y2="364.70000000000005" class="ax"/>
<line x1="40.82" y1="363.1" x2="40.82" y2="364.70000000000005" class="ax"/>
<line x1="48.08" y1="363.1" x2="48.08" y2="364.70000000000005" class="ax"/>
<line x1="55.34" y1="363.1" x2="55.34" y2="364.70000000000005" class="ax"/>
<line x1="62.60" y1="363.1" x2="62.60" y2="365.70000000000005" class="ax"/>
<text x="62.60" y="371.60" class="xl">10.00</text>
<line x1="69.86" y1="363.1" x2="69.86" y2="364.70000000000005" class="ax"/>
<line x1="77.12" y1="363.1" x2="77.12" y2="364.70000000000005" class="ax"/>
<line x1="84.38" y1="363.1" x2="84.38" y2="364.70000000000005" class="ax"/>
<line x1="91.64" y1="363.1" x2="91.64" y2="364.70000000000005" class="ax"/>
<line x1="98.90" y1="363.1" x2="98.90" y2="365.70000000000005" class="ax"/>
<text x="98.90" y="371.60" class="xl">20.00</text>
<line x1="106.16" y1="363.1" x2="106.16" y2="364.70000000000005" class="ax"/>
<line x1="113.42" y1="363.1" x2="113.42" y2="364.70000000000005" class="ax"/>
<line x1="120.68" y1="363.1" x2="120.68" y2="364.70000000000005" class="ax"/>
<line x1="127.94" y1="363.1" x2="127.94" y2="364.70000000000005" class="ax"/>
<line x1="135.20" y1="363.1" x2="135.20" y2="365.70000000000005" class="ax"/>
<text x="135.20" y="371.60" class="xl">30.00</text>
<line x1="142.46" y1="363.1" x2="142.46" y2="364.70000000000005" class="ax"/>
<line x1="149.72" y1="363.1" x2="149.72" y2="364.70000000000005" class="ax"/>
<line x1="156.98" y1="363.1" x2="156.98" y2="364.70000000000005" class="ax"/>
<line x1="164.24" y1="363.1" x2="164.24" y2="364.70000000000005" class="ax"/>
<line x1="171.50" y1="363.1" x2="171.50" y2="365.70000000000005" class="ax"/>
<text x="171.50" y="371.60" class="xl">40.00</text>
<line x1="178.76" y1="363.1" x2="178.76" y2="364.70000000000005" class="ax"/>
<line x1="186.02" y1="363.1" x2="186.02" y2="364.70000000000005" class="ax"/>
<line x1="193.28" y1="363.1" x2="193.28" y2="364.70000000000005" class="ax"/>
<line x1="200.54" y1="363.1" x2="200.54" y2="364.70000000000005" class="ax"/>
<line x1="207.80" y1="363.1" x2="207.80" y2="365.70000000000005" class="ax"/>
<text x="207.80" y="371.60" class="xl">50.00</text>
<line x1="215.06" y1="363.1" x2="215.06" y2="364.70000000000005" class="ax"/>
<line x1="222.32" y1="363.1" x2="222.32" y2="364.70000000000005" class="ax"/>
<line x1="229.58" y1="363.1" x2="229.58" y2="364.70000000000005" class="ax"/>
<line x1="236.84" y1="363.1" x2="236.84" y2="364.70000000000005" class="ax"/>
<line x1="244.10" y1="363.1" x2="244.10" y2="365.70000000000005" class="ax"/>
<text x="244.10" y="371.60" class="xl">60.00</text>
<line x1="251.36" y1="363.1" x2="251.36" y2="364.70000000000005" class="ax"/>
<line x1="258.62" y1="363.1" x2="258.62" y2="364.70000000000005" class="ax"/>
<line x1="265.88" y1="363.1" x2="265.88" y2="364.70000000000005" class="ax"/>
<line x1="273.14" y1="363.1" x2="273.14" y2="364.70000000000005" class="ax"/>
<line x1="280.40" y1="363.1" x2="280.40" y2="365.70000000000005" class="ax"/>
<text x="280.40" y="371.60" class="xl">70.00</text>
<line x1="287.66" y1="363.1" x2="287.66" y2="364.70000000000005" class="ax"/>
<line x1="294.92" y1="363.1" x2="294.92" y2="364.70000000000005" class="ax"/>
<line x1="302.18" y1="363.1" x2="302.18" y2="364.70000000000005" class="ax"/>
<line x1="309.44" y1="363.1" x2="309.44" y2="364.70000000000005" class="ax"/>
<line x1="316.70" y1="363.1" x2="316.70" y2="365.70000000000005" class="ax"/>
<text x="316.70" y="371.60" class="xl">80.00</text>
<line x1="323.96" y1="363.1" x2="323.96" y2="364.70000000000005" class="ax"/>
<line x1="331.22" y1="363.1" x2="331.22" y2="364.70000000000005" class="ax"/>
<line x1="338.48" y1="363.1" x2="338.48" y2="364.70000000000005" class="ax"/>
<line x1="345.74" y1="363.1" x2="345.74" y2="364.70000000000005" class="ax"/>
<line x1="353.00" y1="363.1" x2="353.00" y2="365.70000000000005" class="ax"/>
<text x="353.00" y="371.60" class="xl">90.00</text>
<line x1="360.26" y1="363.1" x2="360.26" y2="364.70000000000005" class="ax"/>
<line x1="367.52" y1="363.1" x2="367.52" y2="364.70000000000005" class="ax"/>
<line x1="374.78" y1="363.1" x2="374.78" y2="364.70000000000005" class="ax"/>
<line x1="382.04" y1="363.1" x2="382.04" y2="364.70000000000005" class="ax"/>
<line x1="389.30" y1="363.1" x2="389.30" y2="365.70000000000005" class="ax"/>
<text x="389.30" y="371.60" class="xl">100.00</text>
<text x="0" y="0" transform="translate(5.2,274.2) rotate(-90)" class="yl" style="text-anchor:middle">AU</text>
<text x="267.3" y="214.5" class="ttl">FAHF-2</text>
<text x="56.0" y="187.40" class="pl">1</text>
<text x="62.8" y="304.80" class="pl">2</text>
<text x="73.3" y="337.60" class="pl">3</text>
<text x="81" y="337.60" class="pl">4</text>
<text x="89.6" y="333.60" class="pl">5</text>
<text x="93.9" y="313.30" class="pl">6</text>
<text x="110" y="324.20" class="pl">7</text>
<text x="118.1" y="321.80" class="pl">8</text>
<text x="143.7" y="338.00" class="pl">9</text>
<text x="149.1" y="330.50" class="pl">10</text>
<text x="166.6" y="280.60" class="pl">11</text>
<text x="171.6" y="311.80" class="pl">12</text>
<text x="186.8" y="200.60" class="pl">13</text>
<text x="197.6" y="333.40" class="pl">15</text>
<text x="205.8" y="337.30" class="pl">16</text>
<text x="224.3" y="335.00" class="pl">17</text>
<text x="229.8" y="306.10" class="pl">18</text>
<text x="235.5" y="340.60" class="pl">19</text>
<text x="239.7" y="332.90" class="pl">20</text>
<text x="243.7" y="323.00" class="pl">21</text>
<text x="248.7" y="331.20" class="pl">22</text>
<text x="251.4" y="315.40" class="pl">23</text>
<text x="256.5" y="338.10" class="pl">25</text>
<text x="260.8" y="331.40" class="pl">26</text>
<text x="269.7" y="299.20" class="pl">27</text>
<text x="280.1" y="341.80" class="pl">28</text>
<text x="287" y="339.60" class="pl">29</text>
<text x="293.9" y="318.80" class="pl">30</text>
<text x="297.3" y="340.30" class="pl">31</text>
<text x="299.8" y="330.10" class="pl">33</text>
<text x="304.8" y="342.20" class="pl">35</text>
<text x="308.7" y="325.60" class="pl">36</text>
<text x="209.8" y="379.8" class="xl" style="font-size:6px">Minutes</text>
</svg>
</body></html>
